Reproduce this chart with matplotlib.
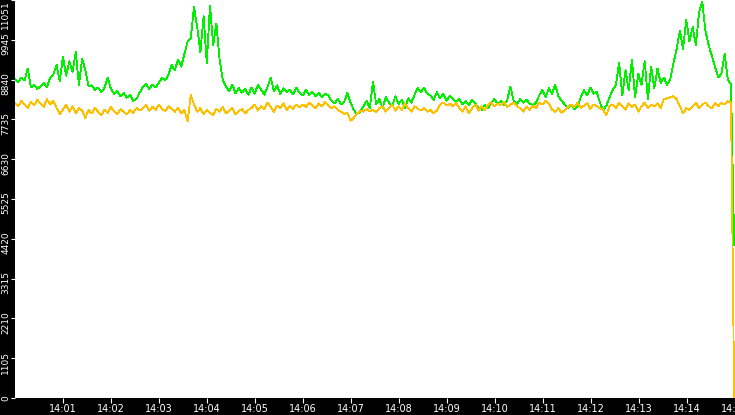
import matplotlib
matplotlib.use("Agg")
import matplotlib.pyplot as plt
import matplotlib.transforms as mtransforms
import pandas as pd

# green series, one sample every ~4 s from 14:00 to 14:15
green = [8850, 8780, 8900, 8820, 9150,
         8620, 8700, 8580, 8660, 8740, 8640,
         8900, 8980,
         9250, 8800, 9480, 8950, 9350, 9050, 9600, 8700, 9420, 9100, 8650,
         8680, 8560, 8620, 8500, 8610, 8900,
         8580, 8450, 8520, 8380, 8470, 8340, 8420, 8250, 8300, 8480,
         8640, 8720, 8580, 8700, 8620,
         8760, 8890, 8820,
         8980, 9250, 9100, 9400, 9200, 9550,
         9900, 10000, 10850,
         10300, 9600, 10600, 9300, 10900, 9800, 10400, 9400,
         8830,
         8650, 8520, 8700, 8460, 8600, 8480, 8580, 8420,
         8620, 8450, 8700, 8560, 8420, 8640, 8900,
         8520, 8680, 8440, 8600, 8500,
         8560, 8430, 8620, 8480, 8400, 8550,
         8420, 8500, 8380, 8470, 8360, 8450, 8400,
         8250, 8180, 8300, 8150, 8230,
         8470,
         8200, 8000, 7880, 7950,
         8100, 8250, 8050,
         8780,
         8150, 8300, 8050, 8350, 8200, 8100, 8380, 8160, 8280, 8050, 8320, 8200, 8420, 8600,
         8500, 8620, 8450,
         8400, 8280, 8500, 8320, 8450, 8250, 8380, 8300,
         8220, 8300, 8150, 8250, 8120, 8280, 8180, 8060,
         8000, 8150, 8050,
         8200, 8300, 8150, 8250, 8120, 8280, 8650,
         8250, 8150, 8300, 8200, 8280, 8180,
         8130, 8200,
         8400, 8550, 8350, 8600, 8450, 8700, 8380,
         8250, 8150,
         8050, 8150, 8020, 8100,
         8350, 8550, 8400, 8620, 8450, 8500,
         8200, 8000, 8120,
         8350, 8550, 8700,
         9300, 8400, 9100, 8550, 9400, 8350, 9000, 8700, 9350, 8300, 9200, 8600, 9150,
         8750, 8900, 8700, 8850,
         9300, 9700,
         10200, 9700, 10500, 9900, 10300, 9800, 10700, 11000,
         10200, 9800, 9500, 9200,
         8900, 9000, 9550, 8850, 8700,
         4250]

orange = [8200, 8100, 8250, 8150, 8050, 8220, 8120, 8280, 8180, 8080, 8300, 8150, 8250,
          8050, 7880, 8000, 8150, 7950, 8100, 7900, 8050, 7980, 7780,
          8000, 7900, 8050, 7950, 7850, 8000, 7920, 8080, 7960, 7880, 8020, 7940, 7870, 8000, 7920, 8050, 7980,
          8050, 8130, 7980, 8080, 8000, 8150, 8020, 7960, 8100, 8030, 7950,
          8050, 7900, 8000, 7680,
          8420,
          8150, 7950, 8050, 7880, 8000, 7920, 7850, 8020, 7950, 8080, 7900, 7980, 8050, 7880, 7960, 8020, 7900, 8000,
          8050, 8150, 7980, 8100, 8020, 8200, 8080, 7950, 8120, 8050, 8180, 8000, 8100, 8030, 8150, 8080,
          8150, 8080, 8200, 8120, 8050, 8180, 8100, 8220, 8130, 8050, 8100, 8000,
          7950, 7880, 7920,
          7700, 7780,
          7900, 7980, 7950, 8020, 7960, 8000, 7940, 8050,
          8100, 7950, 8050, 8150, 7980, 8100, 8000, 8180, 8050, 7950, 8100, 8030,
          7980, 8050, 7950, 8000, 7900, 7980,
          8150, 8200, 8120, 8180, 8100, 8200,
          8050, 7950, 8100, 7900, 8050, 8150, 7980, 8100, 8000, 8150,
          8200, 8100, 8180, 8120, 8220, 8080, 8150, 8200, 8100,
          8050, 7950, 8080, 8000, 8120, 8050,
          8200, 8150, 8250, 8180,
          8000, 7950, 8050, 7920, 8000, 8080,
          8150, 8080, 8200, 8050, 8120, 8180, 8030, 8150, 8100, 8050, 8000,
          7850,
          8100, 8150, 8050, 8200, 8100, 8000, 8180, 8080, 8150, 7950, 8100, 8200, 8050, 8150, 8100, 8180, 8050, 8300, 8320,
          8350, 8380, 8300,
          8100, 7900, 8050, 8000,
          8100, 8200, 8050, 8150, 8200, 8100, 8050, 8180, 8100, 8200, 8150, 8250, 8200,
          0]

start = "2024-01-01 14:00:00"
end = "2024-01-01 14:14:59"
x_ticks = ["14:01", "14:02", "14:03", "14:04", "14:05", "14:06", "14:07", "14:08",
           "14:09", "14:10", "14:11", "14:12", "14:13", "14:14", "14:15"]
y_ticks = [0, 1105, 2210, 3315, 4420, 5525, 6630, 7735, 8840, 9945, 11051]

t_green = pd.date_range(start, end, periods=len(green))
t_orange = pd.date_range(start, end, periods=len(orange))

fig = plt.figure(figsize=(7.35, 4.15), dpi=100, facecolor="black")
ax = fig.add_axes([15 / 735, 17 / 415, 720 / 735, 398 / 415])
ax.set_facecolor("white")

ax.plot(t_green, green, color="#00f000", linewidth=0.6, antialiased=False)
ax.plot(t_orange, orange, color="#ffc000", linewidth=0.6, antialiased=False)

ax.set_xlim(pd.Timestamp("2024-01-01 14:00:00"), pd.Timestamp("2024-01-01 14:15:00"))
ax.set_ylim(0, y_ticks[-1])

ax.set_xticks([pd.Timestamp("2024-01-01 " + s) for s in x_ticks])
ax.set_xticklabels(x_ticks)
ax.set_yticks(y_ticks)
ax.set_yticklabels([str(v) for v in y_ticks])

ax.tick_params(axis="x", colors="white", labelsize=7, length=3.5, width=0.8, pad=0.5)
ax.tick_params(axis="y", colors="white", labelsize=6.5, length=3, width=0.8, pad=0.3)

# labels sit a few pixels below their tick, top one kept inside the figure
shift = mtransforms.ScaledTranslation(0, -4 / 100, fig.dpi_scale_trans)
ylabels = ax.get_yticklabels()
for lbl in ylabels:
    lbl.set_rotation(90)
    lbl.set_va("center")
for lbl in ylabels[1:-1]:
    lbl.set_transform(lbl.get_transform() + shift)
ylabels[-1].set_va("top")

for s in ax.spines.values():
    s.set_visible(False)

fig.savefig("out.png", dpi=100, facecolor="black")
